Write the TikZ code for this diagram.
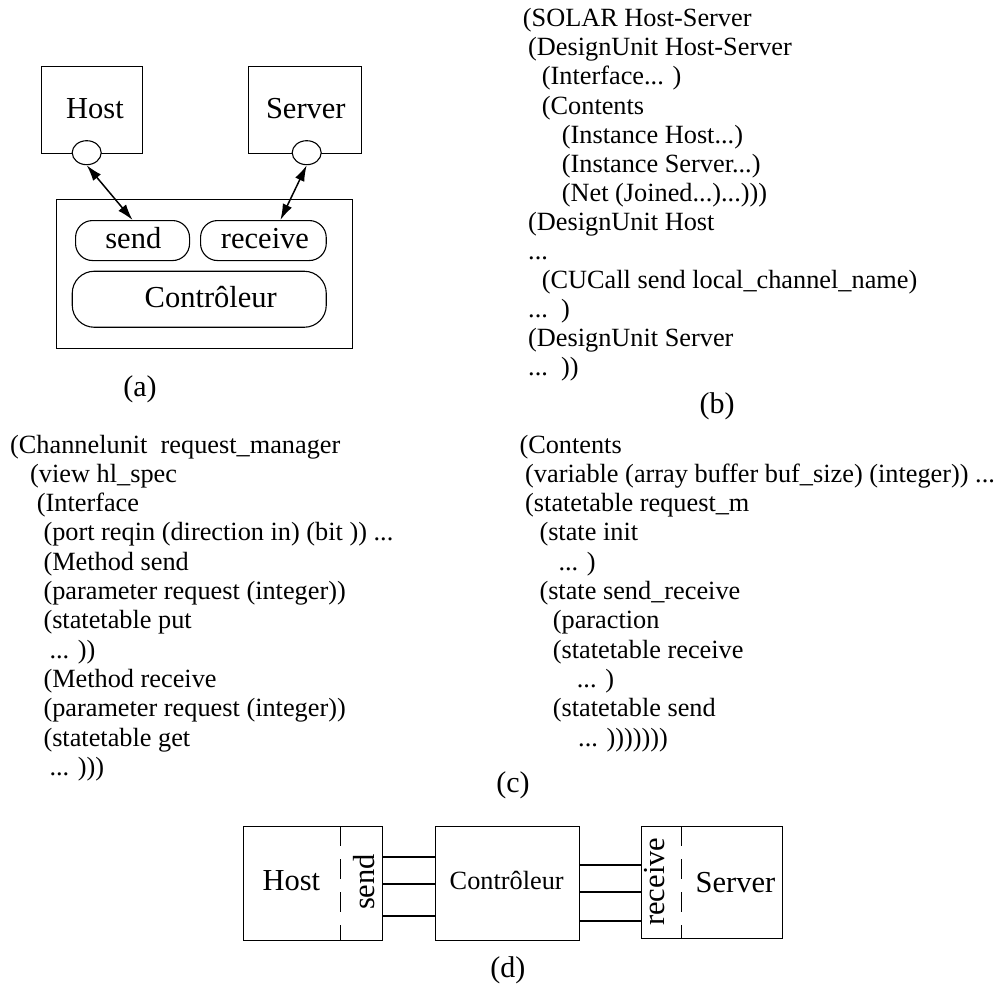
\documentclass[tikz,border=0pt]{standalone}
\usepackage{fontspec}
\setmainfont{Liberation Serif}
\usetikzlibrary{arrows.meta,shapes.geometric}
\begin{document}
\begin{tikzpicture}[x=1pt,y=-1pt,
  code/.style={anchor=base west,inner sep=0pt,font=\fontsize{26.3}{29}\selectfont},
  lab/.style={anchor=base,inner sep=0pt,font=\fontsize{30.5}{33}\selectfont},
  dlab/.style={anchor=base,inner sep=0pt,font=\fontsize{26.3}{29}\selectfont},
  captext/.style={anchor=base,inner sep=0pt,font=\fontsize{30}{33}\selectfont},
  box/.style={draw,line width=1.1pt,inner sep=0pt,anchor=north west},
  pill/.style={draw,line width=1.1pt,inner sep=0pt,anchor=north west,rounded corners=17pt},
  port/.style={draw,fill=white,ellipse,line width=1.1pt,minimum width=29pt,minimum height=24pt,inner sep=0pt},
  link/.style={line width=1.6pt},
  arr/.style={line width=1.5pt,{Latex[length=16pt,width=10pt]}-{Latex[length=16pt,width=10pt]}},
  sep/.style={line width=1.1pt,dash pattern=on 20pt off 13pt}
]
\useasboundingbox (0,0) rectangle (1005,990);

% ---------- (a) ----------
\node[box,minimum width=100.7pt,minimum height=87pt] (hosta) at (41,66) {};
\node[box,minimum width=112.7pt,minimum height=87pt] (servera) at (248,66) {};
\node[lab] (hostat) at (95,118) {Host};
\node[lab] (serverat) at (305.8,118) {Server};
\node[port] (hport) at (86.7,152.7) {};
\node[port] (sport) at (306.7,152.7) {};
\node[box,minimum width=296pt,minimum height=148.7pt] (ctrla) at (56,199) {};
\node[pill,minimum width=114pt,minimum height=40pt] (sendp) at (75,220) {};
\node[pill,minimum width=125.7pt,minimum height=40pt] (recvp) at (200,220) {};
\node[pill,minimum width=254pt,minimum height=56pt,rounded corners=22pt] (ctrlp) at (71.7,270.7) {};
\node[lab] (sendt) at (133.3,248) {send};
\node[lab] (recvt) at (265,248) {receive};
\node[lab] (ctrlt) at (210.8,307.7) {Contrôleur};
\draw[arr] (hport.south) -- (sendp.north);
\draw[arr] (sport.south) -- ([xshift=17pt]recvp.north);
\node[captext] (capa) at (140,396) {(a)};

% ---------- (b) ----------
\foreach \i/\x/\t in {
  1/522.7/{(SOLAR Host-Server},
  2/528/{(DesignUnit Host-Server},
  3/541.7/{(Interface... )},
  4/541.7/{(Contents},
  5/561.7/{(Instance Host...)},
  6/561.7/{(Instance Server...)},
  7/561.7/{(Net (Joined...)...)))},
  8/528/{(DesignUnit Host},
  9/528/{...},
  10/541.7/{(CUCall send local\_channel\_name)},
  11/528/{...\ \ )},
  12/528/{(DesignUnit Server},
  13/528/{...\ \ ))}}
  \node[code] (b\i) at (\x,{26.7+(\i-1)*29.1}) {\t};
\node[captext] (capb) at (717,413) {(b)};

% ---------- (c) ----------
\foreach \i/\x/\t in {
  1/10/{(Channelunit\ \ request\_manager},
  2/30/{(view hl\_spec},
  3/36.7/{(Interface},
  4/43.3/{(port reqin (direction in) (bit )) ...},
  5/43.3/{(Method send},
  6/43.3/{(parameter request (integer))},
  7/43.3/{(statetable put},
  8/49.3/{... ))},
  9/43.3/{(Method receive},
  10/43.3/{(parameter request (integer))},
  11/43.3/{(statetable get},
  12/49.3/{... )))}}
  \node[code] (cl\i) at (\x,{453+(\i-1)*29.3}) {\t};
\foreach \i/\x/\t in {
  1/519.3/{(Contents},
  2/525/{(variable (array buffer buf\_size) (integer)) ...},
  3/525/{(statetable request\_m},
  4/539.3/{(state init},
  5/558.3/{... )},
  6/539.3/{(state send\_receive},
  7/552.7/{(paraction},
  8/552.7/{(statetable receive},
  9/576.7/{... )},
  10/552.7/{(statetable send},
  11/578/{... )))))))}}
  \node[code] (cr\i) at (\x,{453+(\i-1)*29.3}) {\t};
\node[captext] (capc) at (513,792) {(c)};

% ---------- (d) ----------
\node[box,minimum width=138.7pt,minimum height=114pt] (hostd) at (243,826) {};
\node[box,minimum width=143.6pt,minimum height=114pt] (ctrld) at (435.3,826) {};
\node[box,minimum width=141pt,minimum height=112pt] (serverd) at (640.6,826) {};
\coordinate (hs1) at (340.2,826);
\coordinate (hs2) at (340.2,940);
\coordinate (ss1) at (681.7,826);
\coordinate (ss2) at (681.7,938);
\draw[sep] (hs1) -- (hs2);
\draw[sep] (ss1) -- (ss2);
\node[lab] (hostdt) at (291.4,890) {Host};
\node[dlab] (ctrldt) at (506.7,889) {Contrôleur};
\node[lab] (serverdt) at (735.4,892) {Server};
\node[lab,rotate=90] (senddt) at (374,882) {send};
\node[lab,rotate=90] (recvdt) at (664,881.7) {receive};
\foreach \n/\y in {l1/856.7,l2/884,l3/916,r1/865,r2/891.7,r3/920.7}
  \coordinate (\n) at (0,\y);
\foreach \n in {l1,l2,l3}
  \draw[link] (hostd.east |- \n) -- (ctrld.west |- \n);
\foreach \n in {r1,r2,r3}
  \draw[link] (ctrld.east |- \n) -- (serverd.west |- \n);
\node[captext] (capd) at (507.8,977) {(d)};
\end{tikzpicture}
\end{document}
